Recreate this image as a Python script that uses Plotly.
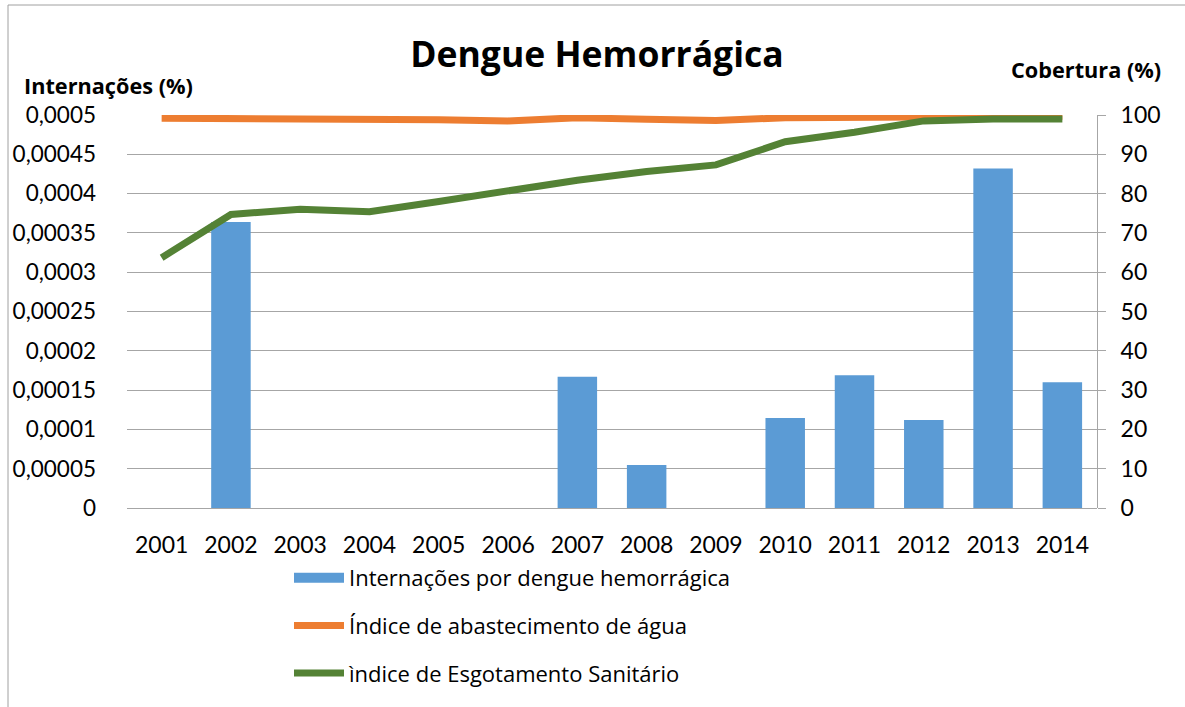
import plotly.graph_objects as go

years = ["2001", "2002", "2003", "2004", "2005", "2006", "2007",
         "2008", "2009", "2010", "2011", "2012", "2013", "2014"]
internacoes = [0, 0.000364, 0, 0, 0, 0, 0.000167,
               0.0000547, 0, 0.0001145, 0.000169, 0.000112, 0.000432, 0.00016]
agua = [99.2, 99.2, 99.1, 99.0, 98.8, 98.5, 99.3,
        98.9, 98.6, 99.3, 99.5, 99.6, 99.7, 99.7]
esgoto = [63.7, 74.7, 76.0, 75.4, 78.0, 80.8, 83.4,
          85.6, 87.3, 93.2, 95.6, 98.5, 99.0, 99.0]

TICKFONT = "Lato"
TEXTFONT = "Open Sans"
W, H = 1185, 707
L, R, T, B = 127, 88, 115, 199
PW, PH = W - L - R, H - T - B


def px(x):
    return (x - L) / PW


def py(y):
    return (H - B - y) / PH


fig = go.Figure()
fig.add_trace(go.Bar(
    x=years, y=internacoes, name="Internações por dengue hemorrágica",
    marker=dict(color="#5B9BD5", line=dict(width=0)),
    yaxis="y", showlegend=False))
# legend proxy for the bar series (wide rectangular swatch)
fig.add_trace(go.Scatter(
    x=[None], y=[None], name="Internações por dengue hemorrágica",
    mode="lines", line=dict(color="#5B9BD5", width=14),
    yaxis="y", legendgroup="a", hoverinfo="skip"))
fig.add_trace(go.Scatter(
    x=years, y=agua, name="Índice de abastecimento de água",
    mode="lines", line=dict(color="#ED7D31", width=7),
    yaxis="y2", legendgroup="b"))
fig.add_trace(go.Scatter(
    x=years, y=esgoto, name="ìndice de Esgotamento Sanitário",
    mode="lines", line=dict(color="#548235", width=7),
    yaxis="y2", legendgroup="c"))

fig.update_layout(
    width=W, height=H,
    margin=dict(l=L, r=R, t=T, b=B, autoexpand=False),
    paper_bgcolor="white", plot_bgcolor="white",
    separators=", ",
    font=dict(family=TICKFONT, size=23, color="#000000"),
    bargap=0.43,
    title=dict(text="<b>Dengue Hemorrágica</b>", x=597 / W, xanchor="center",
               y=1 - 55 / H, yanchor="middle",
               font=dict(family=TEXTFONT, size=35.5, color="#000000")),
    xaxis=dict(type="category", range=[-0.5, 13.5], showgrid=False,
               showline=False, ticks="", ticklabelstandoff=21,
               tickfont=dict(size=23, family=TICKFONT)),
    yaxis=dict(range=[0, 0.0005], dtick=0.00005, tick0=0,
               tickformat=".5~f", showgrid=True, gridcolor="#A6A6A6",
               gridwidth=1, zeroline=True, zerolinecolor="#A6A6A6",
               zerolinewidth=1, showline=False, ticks="",
               ticklabelstandoff=30, tickfont=dict(size=22.5, family=TICKFONT)),
    yaxis2=dict(range=[0, 100], dtick=10, tick0=0, overlaying="y",
                side="right", showgrid=False, zeroline=False,
                showline=True, linecolor="#A6A6A6", linewidth=1,
                ticks="outside", ticklen=8, tickcolor="#A6A6A6",
                ticklabelstandoff=10, tickfont=dict(size=23, family=TICKFONT)),
    legend=dict(x=px(289), xanchor="left", y=py(557), yanchor="top",
                orientation="v", traceorder="grouped", tracegroupgap=16,
                itemwidth=50, font=dict(size=22, family=TEXTFONT),
                bgcolor="rgba(0,0,0,0)"),
    showlegend=True,
    annotations=[
        dict(text="<b>Internações (%)</b>", x=px(22), y=py(85),
             xref="paper", yref="paper", xanchor="left", yanchor="middle",
             showarrow=False, font=dict(size=21.7, family=TEXTFONT)),
        dict(text="<b>Cobertura (%)</b>", x=px(1163), y=py(70),
             xref="paper", yref="paper", xanchor="right", yanchor="middle",
             showarrow=False, font=dict(size=21.7, family=TEXTFONT)),
    ],
    shapes=[
        dict(type="rect", xref="paper", yref="paper",
             x0=px(8), y0=py(760), x1=px(1260), y1=py(5),
             line=dict(color="#A0A0A0", width=1), fillcolor="rgba(0,0,0,0)",
             layer="below"),
    ],
)

fig.write_html("out.html",
               config={"displayModeBar": False},
               post_script="document.body.style.margin='0';"
                           "document.body.style.overflow='hidden';")
